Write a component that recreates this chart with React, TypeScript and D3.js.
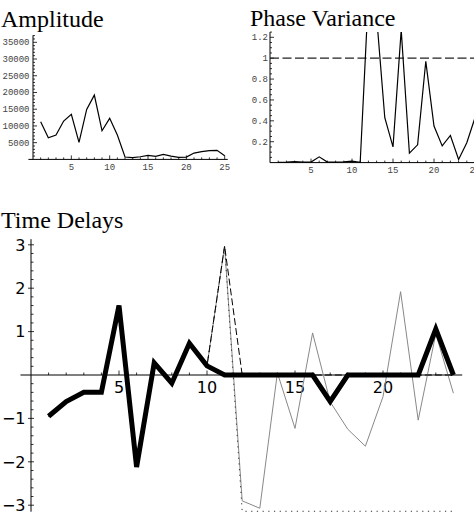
import React from "react";
import * as d3 from "d3";

const W = 474;
const H = 520;

// Amplitude panel
const ampX = d3.range(1, 26);
const ampValues = [
  11250, 6480, 7280, 11460, 13460, 5100, 14950, 19220, 8570, 12270, 7280, 720,
  550, 800, 1200, 900, 1500, 1000, 600, 700, 1900, 2300, 2600, 2700, 1100,
];
const ampYTicks = [5000, 10000, 15000, 20000, 25000, 30000, 35000];
const ampXTicks = [5, 10, 15, 20, 25];

// Phase variance panel
const phaseX = d3.range(1, 26);
const phaseValues = [
  0.002, 0.005, 0.01, 0.005, 0.005, 0.055, 0.005, 0.005, 0.008, 0.015, 0.003,
  1.6, 1.4, 0.43, 0.15, 1.27, 0.09, 0.17, 0.97, 0.35, 0.16, 0.26, 0.03, 0.19,
  0.43,
];
const phaseThreshold = 1;
const phaseYTicks = [0.2, 0.4, 0.6, 0.8, 1, 1.2];
const phaseXTicks = [5, 10, 15, 20, 25];

// Time delays panel
const delayX = d3.range(1, 25);
const delayThick = [
  -0.95, -0.61, -0.4, -0.4, 1.6, -2.12, 0.28, -0.19, 0.73, 0.21, 0, 0, 0, 0, 0,
  0, -0.61, 0, 0, 0, 0, 0, 1.06, 0,
];
const delayGray = [
  -0.95, -0.61, -0.4, -0.4, 1.6, -2.12, 0.28, -0.19, 0.73, 0.21, 2.97, -2.9,
  -3.07, 0.05, -1.23, 0.97, -0.62, -1.25, -1.64, -0.5, 1.92, -1.04, 0.95, -0.42,
];
const delayDashed = [
  -0.95, -0.61, -0.4, -0.4, 1.6, -2.12, 0.28, -0.19, 0.73, 0.21, 2.97, 0, 0, 0,
  0, 0, 0, 0, 0, 0, 0, 0, 0, 0,
];
const delayDotted = [
  -0.95, -0.61, -0.4, -0.4, 1.6, -2.12, 0.28, -0.19, 0.73, 0.21, 2.97, -3.14,
  -3.14, -3.14, -3.14, -3.14, -3.14, -3.14, -3.14, -3.14, -3.14, -3.14, -3.14,
  -3.14,
];
const delayYTicks = [-3, -2, -1, 1, 2, 3];
const delayXTicks = [5, 10, 15, 20];

const mono = "'Liberation Mono', 'DejaVu Sans Mono', monospace";
const serif = "'Liberation Serif', 'Times New Roman', serif";
const sans = "'DejaVu Sans', sans-serif";

function fmtMinus(v: number) {
  return v < 0 ? "\u2212" + Math.abs(v) : String(v);
}

export default function App() {
  // amplitude scales
  const ax = d3.scaleLinear().domain([0, 25]).range([33, 224.7]);
  const ay = d3.scaleLinear().domain([0, 35000]).range([159.4, 42.3]);
  const ampLine = d3
    .line<number>()
    .x((d, i) => ax(ampX[i]))
    .y((d) => ay(d));

  // phase scales
  const px = d3.scaleLinear().domain([0, 25]).range([270, 475]);
  const py = d3.scaleLinear().domain([0, 1.2]).range([162.6, 37.3]);
  const phaseLine = d3
    .line<number>()
    .x((d, i) => px(phaseX[i]))
    .y((d) => py(d));

  // delay scales
  const dx = d3.scaleLinear().domain([0, 24]).range([31, 453.4]);
  const dy = d3.scaleLinear().domain([-3, 3]).range([505.2, 244.8]);
  const delayLine = d3
    .line<number>()
    .x((d, i) => dx(delayX[i]))
    .y((d) => dy(d));

  const ampMinorY = d3.range(1000, 37001, 1000);
  const ampMinorX = d3.range(1, 26);
  const phaseMinorY = d3.range(0.05, 1.26, 0.05);
  const phaseMinorX = d3.range(1, 26);
  const delayMinorY = d3.range(-3.0, 3.01, 0.2).filter((v) => Math.abs(v) > 1e-6);
  const delayMinorX = d3.range(1, 25);

  return (
    <svg
      width={W}
      height={H}
      style={{ position: "absolute", left: 0, top: 0, background: "#fff" }}
    >
      <defs>
        <clipPath id="phaseClip">
          <rect x={px(0)} y={py(1.25)} width={W - px(0)} height={py(0) - py(1.25) + 2} />
        </clipPath>
        <clipPath id="delayClip">
          <rect x={dx(-0.6)} y={dy(3.14)} width={dx(24.6) - dx(-0.6)} height={dy(-3.145) - dy(3.14) + 1} />
        </clipPath>
      </defs>

      {/* ---------- Amplitude ---------- */}
      <text x={1} y={26.7} fontFamily={serif} fontSize={24} fill="#000">
        Amplitude
      </text>
      <line x1={ax(-0.6)} x2={ax(25.4)} y1={ay(0)} y2={ay(0)} stroke="#000" strokeWidth={1} />
      <line x1={ax(0)} x2={ax(0)} y1={ay(0)} y2={ay(37100)} stroke="#000" strokeWidth={1} />
      {ampMinorY.map((v) => (
        <line
          key={"amy" + v}
          x1={ax(0)}
          x2={ax(0) + (v % 5000 === 0 ? 4 : 2)}
          y1={ay(v)}
          y2={ay(v)}
          stroke="#000"
          strokeWidth={0.8}
        />
      ))}
      {ampMinorX.map((v) => (
        <line
          key={"amx" + v}
          x1={ax(v)}
          x2={ax(v)}
          y1={ay(0)}
          y2={ay(0) - (v % 5 === 0 ? 4 : 2)}
          stroke="#000"
          strokeWidth={0.8}
        />
      ))}
      {ampYTicks.map((v) => (
        <text
          key={"aty" + v}
          x={29.5}
          y={ay(v) + 3}
          textAnchor="end"
          fontFamily={mono}
          fontSize={9}
          fill="#444"
        >
          {v}
        </text>
      ))}
      {ampXTicks.map((v) => (
        <text
          key={"atx" + v}
          x={ax(v)}
          y={169.5}
          textAnchor="middle"
          fontFamily={mono}
          fontSize={9}
          fill="#444"
        >
          {v}
        </text>
      ))}
      <path d={ampLine(ampValues) || ""} fill="none" stroke="#000" strokeWidth={1.2} />

      {/* ---------- Phase Variance ---------- */}
      <text x={250} y={26} fontFamily={serif} fontSize={24} fill="#000">
        Phase Variance
      </text>
      <line x1={px(0)} x2={W} y1={py(0)} y2={py(0)} stroke="#000" strokeWidth={1} />
      <line x1={px(0)} x2={px(0)} y1={py(0)} y2={py(1.25)} stroke="#000" strokeWidth={1} />
      {phaseMinorY.map((v, i) => (
        <line
          key={"pmy" + i}
          x1={px(0)}
          x2={px(0) + ((i + 1) % 4 === 0 ? 4 : 2)}
          y1={py(v)}
          y2={py(v)}
          stroke="#000"
          strokeWidth={0.8}
        />
      ))}
      {phaseMinorX.map((v) => (
        <line
          key={"pmx" + v}
          x1={px(v)}
          x2={px(v)}
          y1={py(0)}
          y2={py(0) - (v % 5 === 0 ? 4 : 2)}
          stroke="#000"
          strokeWidth={0.8}
        />
      ))}
      {phaseYTicks.map((v) => (
        <text
          key={"pty" + v}
          x={268}
          y={py(v) + 3}
          textAnchor="end"
          fontFamily={mono}
          fontSize={9}
          fill="#444"
        >
          {v}
        </text>
      ))}
      {phaseXTicks.map((v) => (
        <text
          key={"ptx" + v}
          x={px(v)}
          y={172.5}
          textAnchor="middle"
          fontFamily={mono}
          fontSize={9}
          fill="#444"
        >
          {v}
        </text>
      ))}
      <line
        x1={px(0)}
        x2={W}
        y1={py(phaseThreshold)}
        y2={py(phaseThreshold)}
        stroke="#222"
        strokeWidth={1.2}
        strokeDasharray="9,3.5"
      />
      <path
        d={phaseLine(phaseValues) || ""}
        fill="none"
        stroke="#000"
        strokeWidth={1.2}
        clipPath="url(#phaseClip)"
      />

      {/* ---------- Time Delays ---------- */}
      <text x={1} y={228} fontFamily={serif} fontSize={24} fill="#000">
        Time Delays
      </text>
      <line x1={dx(-0.6)} x2={dx(24.5)} y1={dy(0)} y2={dy(0)} stroke="#000" strokeWidth={1} />
      <line x1={dx(0)} x2={dx(0)} y1={dy(3.13)} y2={dy(-3.15)} stroke="#000" strokeWidth={1} />
      {delayMinorY.map((v, i) => {
        const major = Math.abs(v - Math.round(v)) < 1e-6;
        return (
          <line
            key={"dmy" + i}
            x1={dx(0) - (major ? 3 : 0)}
            x2={dx(0) + (major ? 3 : 2.5)}
            y1={dy(v)}
            y2={dy(v)}
            stroke="#000"
            strokeWidth={0.8}
          />
        );
      })}
      {delayMinorX.map((v) => (
        <line
          key={"dmx" + v}
          x1={dx(v)}
          x2={dx(v)}
          y1={dy(0)}
          y2={dy(0) - (v % 5 === 0 ? 4.5 : 2.5)}
          stroke="#000"
          strokeWidth={0.8}
        />
      ))}
      {delayYTicks.map((v) => (
        <text
          key={"dty" + v}
          x={25.5}
          y={dy(v) + 5.8}
          textAnchor="end"
          fontFamily={sans}
          fontSize={16}
          fill="#000"
        >
          {fmtMinus(v)}
        </text>
      ))}
      {delayXTicks.map((v) => (
        <text
          key={"dtx" + v}
          x={dx(v)}
          y={393}
          textAnchor="middle"
          fontFamily={sans}
          fontSize={16}
          fill="#000"
        >
          {v}
        </text>
      ))}
      <g clipPath="url(#delayClip)">
        <path
          d={delayLine(delayGray) || ""}
          fill="none"
          stroke="#888"
          strokeWidth={1}
        />
        <path
          d={delayLine(delayDotted) || ""}
          fill="none"
          stroke="#333"
          strokeWidth={1}
          strokeDasharray="1.2,4.5"
        />
        <path
          d={delayLine(delayDashed) || ""}
          fill="none"
          stroke="#000"
          strokeWidth={1}
          strokeDasharray="7,3"
        />
        <path
          d={delayLine(delayThick) || ""}
          fill="none"
          stroke="#000"
          strokeWidth={5}
          strokeLinejoin="miter"
          strokeMiterlimit={4}
        />
      </g>
    </svg>
  );
}
